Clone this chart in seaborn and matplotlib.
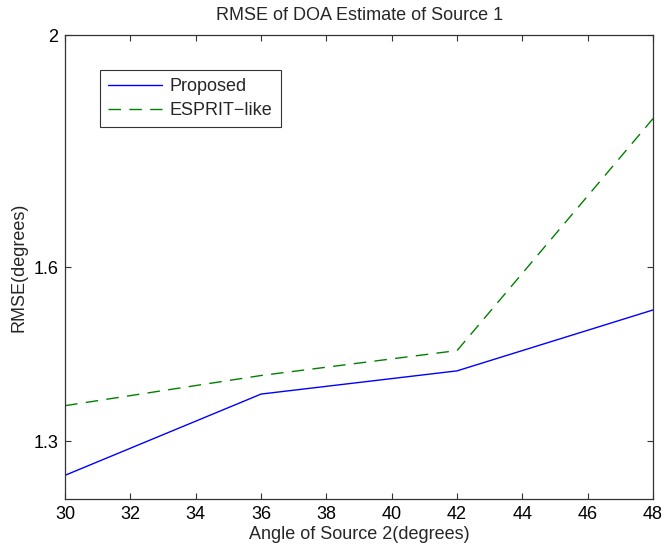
import matplotlib
matplotlib.use("Agg")
import matplotlib.pyplot as plt
import seaborn as sns
import pandas as pd
from matplotlib.lines import Line2D

angles = [30, 36, 42, 48]
proposed = [1.241, 1.381, 1.421, 1.526]
esprit = [1.361, 1.413, 1.456, 1.856]
series_names = ["Proposed", "ESPRIT\u2212like"]
xticks = [30, 32, 34, 36, 38, 40, 42, 44, 46, 48]
yticks = [1.3, 1.6, 2.0]
ytick_labels = ["1.3", "1.6", "2"]

sns.set_theme(style="white")
plt.rcParams['font.family'] = ['Liberation Sans', 'DejaVu Sans']

df = pd.DataFrame({
    "angle": angles * 2,
    "rmse": proposed + esprit,
    "method": [series_names[0]] * len(angles) + [series_names[1]] * len(angles),
})

fig = plt.figure(figsize=(6.65, 5.53), dpi=100)
ax = fig.add_axes([0.098, 0.0976, 0.884, 0.839])

sns.lineplot(data=df, x="angle", y="rmse", hue="method", style="method",
             palette={series_names[0]: "#0000ff", series_names[1]: "#008000"},
             dashes={series_names[0]: "", series_names[1]: (9, 6)},
             linewidth=1.0, ax=ax, legend=False)

ax.set_xlim(30, 48)
ax.set_ylim(1.2, 2.0)
ax.set_xticks(xticks)
ax.set_xticklabels([str(t) for t in xticks])
ax.set_yticks(yticks)
ax.set_yticklabels(ytick_labels)
ax.tick_params(direction="in", length=4, width=0.8, colors="#333333",
               labelcolor="black", labelsize=13, top=True, right=True,
               bottom=True, left=True, pad=5)
for s in ax.spines.values():
    s.set_visible(True)
    s.set_color("#333333")
    s.set_linewidth(0.9)

ax.set_title("RMSE of DOA Estimate of Source 1", fontsize=13, pad=11)
ax.set_xlabel("Angle of Source 2(degrees)", fontsize=13, labelpad=2)
ax.set_ylabel("RMSE(degrees)", fontsize=13, labelpad=4)

handles = [Line2D([], [], color="#0000ff", lw=1.0),
           Line2D([], [], color="#008000", lw=1.0, dashes=(9, 6))]
leg = ax.legend(handles, series_names, loc="upper left",
                bbox_to_anchor=(0.0595, 0.925), borderaxespad=0,
                fontsize=13, frameon=True,
                fancybox=False, edgecolor="black", handlelength=3.0,
                borderpad=0.45, labelspacing=0.39, handletextpad=0.4)
leg.get_frame().set_linewidth(0.8)

fig.savefig("out.png", dpi=100)
